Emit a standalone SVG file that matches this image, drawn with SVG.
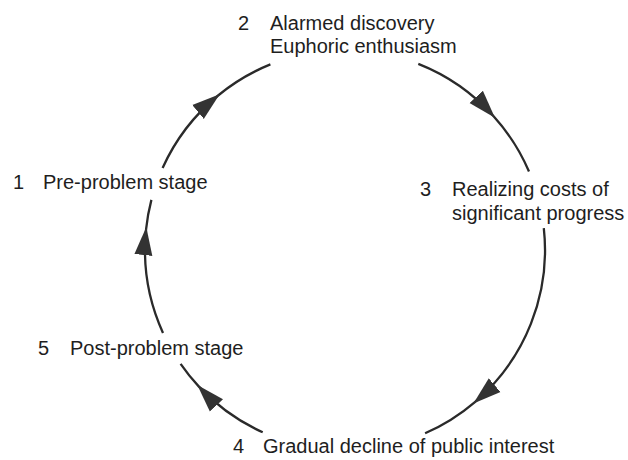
<svg xmlns="http://www.w3.org/2000/svg" width="628" height="460" viewBox="0 0 628 460">
  <style>
    .lbl { font-family: "Liberation Sans", Arial, sans-serif; font-size: 20px; fill: #1e1e1e; }
    .arc { fill: none; stroke: #2a2a2a; stroke-width: 2.3; marker-mid: url(#ah); }
  </style>
  <defs>
    <marker id="ah" markerUnits="userSpaceOnUse" markerWidth="28" markerHeight="20" viewBox="0 0 28 20" refX="26" refY="10" orient="auto">
      <path d="M0,1 L28,10 L0,19 Z" fill="#333"/>
    </marker>
  </defs>
  <rect width="628" height="460" fill="#fff"/>

  <g id="connectors">
    <path class="arc" d="M162.6,168.0 A200,200 0 0 1 218.1,95.5 A200,200 0 0 1 270.4,64.4"/>
    <path class="arc" d="M418.3,63.9 A200,200 0 0 1 493.6,116.2 A200,200 0 0 1 529.0,171.5"/>
    <path class="arc" d="M543.8,228.1 A200,200 0 0 1 474.9,402.1 A200,200 0 0 1 425.1,433.3"/>
    <path class="arc" d="M262.7,432.3 A200,200 0 0 1 198.7,386.4 A200,200 0 0 1 180.6,363.9"/>
    <path class="arc" d="M163.0,332.9 A200,200 0 0 1 146.1,229.1 A200,200 0 0 1 151.4,199.9"/>
  </g>

  <g id="node1">
    <text class="lbl" x="13" y="189">1</text>
    <text class="lbl" x="43" y="189">Pre-problem stage</text>
  </g>
  <g id="node2">
    <text class="lbl" x="238" y="30">2</text>
    <text class="lbl" x="270" y="30">Alarmed discovery</text>
    <text class="lbl" x="270" y="53">Euphoric enthusiasm</text>
  </g>
  <g id="node3">
    <text class="lbl" x="420" y="196">3</text>
    <text class="lbl" x="452" y="196">Realizing costs of</text>
    <text class="lbl" x="452" y="220">significant progress</text>
  </g>
  <g id="node4">
    <text class="lbl" x="233" y="453">4</text>
    <text class="lbl" x="263" y="453">Gradual decline of public interest</text>
  </g>
  <g id="node5">
    <text class="lbl" x="38" y="355">5</text>
    <text class="lbl" x="70" y="355">Post-problem stage</text>
  </g>
</svg>
